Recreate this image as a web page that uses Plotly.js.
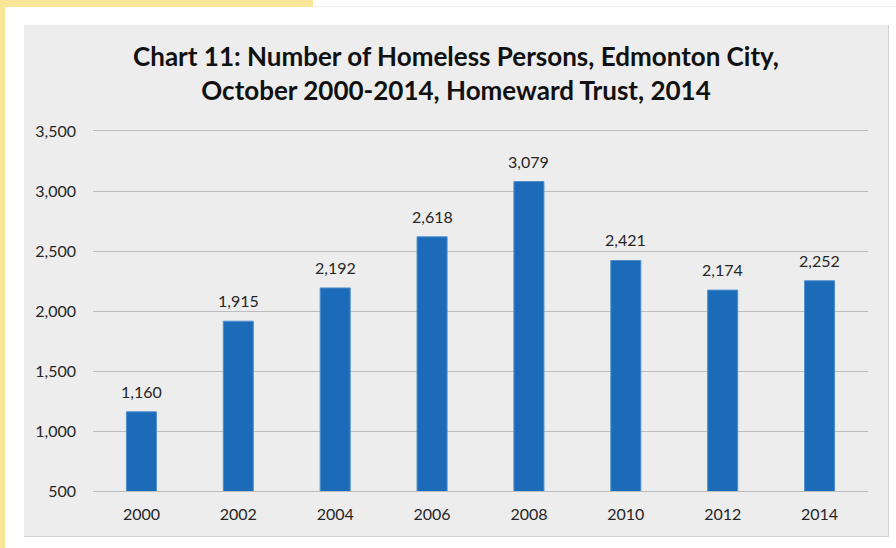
<!DOCTYPE html>
<html>
<head>
<meta charset="utf-8">
<script src="https://cdn.plot.ly/plotly-3.0.1.min.js"></script>
<style>
  html, body { margin: 0; padding: 0; background: #ffffff; }
  body { width: 896px; height: 548px; position: relative; overflow: hidden; }
  #ytop { position: absolute; left: 0; top: 0; width: 313px; height: 7px; background: #f8e596; }
  #yleft { position: absolute; left: 0; top: 0; width: 5px; height: 548px; background: #f8e596; }
  #topline { position: absolute; left: 313px; top: 6px; width: 583px; height: 1px; background: #f0f0f0; }
  #chart { position: absolute; left: 24px; top: 25px; width: 864px; height: 511px;
           border-right: 1px solid #d2d2d2; border-bottom: 1px solid #d2d2d2; }
</style>
</head>
<body>
<div id="ytop"></div>
<div id="yleft"></div>
<div id="topline"></div>
<div id="chart"></div>
<script>
const years = ['2000', '2002', '2004', '2006', '2008', '2010', '2012', '2014'];
const homeless = [1160, 1915, 2192, 2618, 3079, 2421, 2174, 2252];
const yTickVals = [500, 1000, 1500, 2000, 2500, 3000, 3500];
const yTickText = ['500', '1,000', '1,500', '2,000', '2,500', '3,000', '3,500'];
const titleText = 'Chart 11: Number of Homeless Persons, Edmonton City,<br>October 2000-2014, Homeward Trust, 2014';

const fmt = v => v.toLocaleString('en-US');
const FONT = 'Lato, "Open Sans", sans-serif';

const trace = {
  type: 'bar',
  x: years,
  y: homeless,
  marker: { color: '#1c6bb8', line: { color: '#4f8fce', width: 1 } },
  hoverinfo: 'x+y'
};

// category index positions for the labels (numeric-looking category names)
const annotations = years.map((yr, i) => ({
  x: i, y: homeless[i], xref: 'x', yref: 'y',
  text: fmt(homeless[i]), showarrow: false,
  yanchor: 'bottom', yshift: 9,
  font: { family: FONT, size: 16, color: '#262626' }
}));

const layout = {
  width: 864, height: 511,
  paper_bgcolor: '#ededed', plot_bgcolor: '#ededed',
  margin: { l: 69, r: 20, t: 106, b: 45 },
  title: {
    text: titleText,
    x: 0.5, xref: 'container', xanchor: 'center',
    y: 0.92, yref: 'container', yanchor: 'middle',
    font: { family: FONT, size: 26, color: '#111111', weight: 'bold' }
  },
  bargap: 0.69,
  showlegend: false,
  xaxis: {
    type: 'category',
    range: [-0.5, years.length - 0.5],
    autorange: false,
    showgrid: false,
    showline: true, mirror: true, linecolor: '#bdbdbd', linewidth: 1,
    ticks: '',
    ticklabelstandoff: 9,
    tickfont: { family: FONT, size: 16, color: '#262626' },
    fixedrange: true
  },
  yaxis: {
    range: [500, 3500],
    autorange: false,
    tickvals: yTickVals,
    ticktext: yTickText,
    showgrid: true, gridcolor: '#bdbdbd', gridwidth: 1,
    zeroline: false, showline: false,
    ticks: '',
    ticklabelstandoff: 16,
    tickfont: { family: FONT, size: 16, color: '#262626' },
    fixedrange: true
  },
  annotations: annotations
};

Plotly.newPlot('chart', [trace], layout, { displayModeBar: false, staticPlot: true });
</script>
</body>
</html>
